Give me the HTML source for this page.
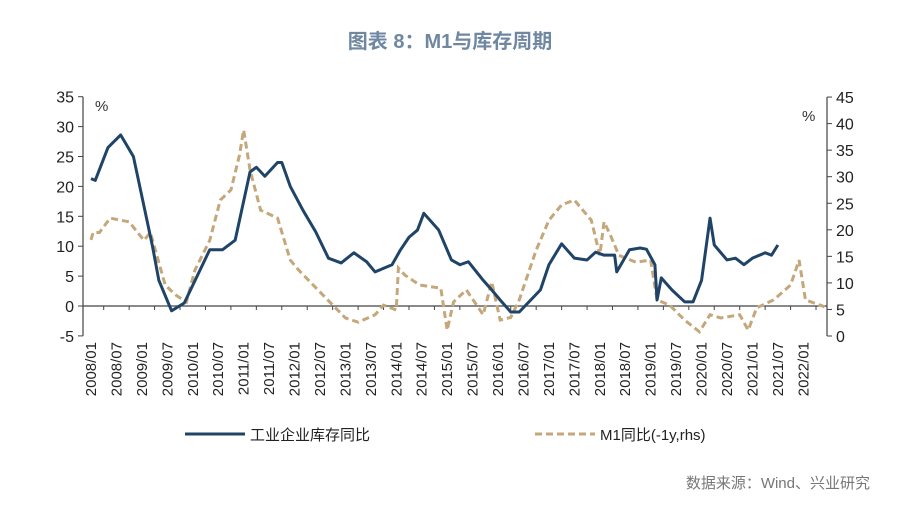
<!DOCTYPE html>
<html><head><meta charset="utf-8">
<style>
body{margin:0;background:#fff;}
svg{display:block;font-family:"Liberation Sans","Noto Sans CJK SC",sans-serif;}
</style></head>
<body>
<svg id="chart" width="900" height="519" viewBox="0 0 900 519">
<text x="450" y="48" text-anchor="middle" font-size="20" font-weight="bold" fill="#6f87a0">图表 8：M1与库存周期</text>
<g id="axes"></g>
<g id="series"></g>
<g>
<line x1="185" y1="434" x2="245" y2="434" stroke="#1f4468" stroke-width="3"/>
<text x="250" y="440" font-size="15" fill="#222">工业企业库存同比</text>
<line x1="535" y1="434" x2="595" y2="434" stroke="#c4a77a" stroke-width="3" stroke-dasharray="7,4"/>
<text x="600" y="440" font-size="15" fill="#222">M1同比(-1y,rhs)</text>
</g>
<text x="870" y="488" text-anchor="end" font-size="15" fill="#777">数据来源：Wind、兴业研究</text>
</svg>
<script>
const xLabels=["2008/01","2008/07","2009/01","2009/07","2010/01","2010/07","2011/01","2011/07","2012/01","2012/07","2013/01","2013/07","2014/01","2014/07","2015/01","2015/07","2016/01","2016/07","2017/01","2017/07","2018/01","2018/07","2019/01","2019/07","2020/01","2020/07","2021/01","2021/07","2022/01"];
const leftTicks=[-5,0,5,10,15,20,25,30,35];
const rightTicks=[0,5,10,15,20,25,30,35,40,45];
const invMonths=[0,1,4,7,10,14.5,16,19,22,28,31,34,37.5,39,41,44,45,47,50,53,56,59,62,65,67,71,73,75,77,78.5,82,85,87,89,92.5,94.5,96.5,99,101,106,108,111,114,117,119,121,122.5,123.5,124,127,129.5,131,133,133.5,134.5,137,140,142,144,146,147,150,152,154,156,159,160.5,162];
const invValues=[21.3,21,26.5,28.6,25,10,4.3,-0.8,0.5,9.4,9.4,11,22.4,23.2,21.7,24,24,20,16,12.4,8,7.2,8.9,7.4,5.7,6.9,9.4,11.5,12.7,15.5,12.7,7.7,6.9,7.4,4.3,2.7,1,-1,-1,2.7,6.9,10.4,8,7.7,9,8.5,8.5,8.5,5.7,9.4,9.7,9.5,6.9,1,4.7,2.7,0.7,0.7,4.3,14.7,10.2,7.7,8,6.9,8,8.9,8.5,10.2];
const m1Months=[0,0.5,2,4.5,9,12.5,14,17.5,20,22.5,24.5,28,30.5,33,35,36,37.5,40,44,47,49,53.5,60,63,67,69,72,72.5,74,77.5,82.5,84,85.5,88.5,92.5,94.5,96.5,99,101,105,108,111,114,118,120,121,122.5,124.5,128.5,132,133.5,136.5,140,143.5,146,148.5,153,155,157,161,165,167,168.5,172,173];
const m1Values=[18.1,19.5,19.5,22.2,21.5,18,19.5,9.6,7.7,6.4,12.4,18,25.6,27.5,34,38.8,31.3,23.7,22.2,14.3,12.4,8.7,3.4,2.6,4,5.8,4.9,12.8,11.5,9.6,9,1.1,6.4,8.7,4,10.2,3,3.5,6.8,16.2,21.8,24.7,25.6,21.8,15.2,21.5,19,15.2,13.9,14.3,6.8,5.8,3,0.8,4,3.4,4,1.1,5.3,6.8,9.6,14.3,6.8,5.8,5.5];
const X=m=>91+m*4.24;
const YL=v=>306-v*5.98;
const YR=v=>336-v*5.31;
const NS="http://www.w3.org/2000/svg";
const ax=document.getElementById('axes'),se=document.getElementById('series');
function mk(tag,at,parent){const e=document.createElementNS(NS,tag);for(const k in at)e.setAttribute(k,at[k]);parent.appendChild(e);return e;}
let e;
e=mk('line',{x1:83,y1:YL(35),x2:83,y2:YL(-5),stroke:'#444','stroke-width':1.2},ax);


e=mk('line',{x1:827,y1:YR(45),x2:827,y2:YR(0),stroke:'#444','stroke-width':1.2},ax);


e=mk('line',{x1:83,y1:YL(0),x2:827,y2:YL(0),stroke:'#444','stroke-width':1.2},ax);


leftTicks.forEach(v=>{mk('line',{x1:78,y1:YL(v),x2:83,y2:YL(v),stroke:'#444'},ax);
 e=mk('text',{x:74,y:YL(v)+6,'text-anchor':'end','font-size':16,fill:'#222'},ax);e.textContent=v;
 
 });
rightTicks.forEach(v=>{mk('line',{x1:827,y1:YR(v),x2:832,y2:YR(v),stroke:'#444'},ax);
 e=mk('text',{x:836,y:YR(v)+6,'font-size':16,fill:'#222'},ax);e.textContent=v;
 
 });
e=mk('text',{x:95,y:111,'font-size':15,fill:'#333'},ax);e.textContent='%';


e=mk('text',{x:802,y:121,'font-size':15,fill:'#333'},ax);e.textContent='%';


xLabels.forEach((l,i)=>{const x=X(i*6);
 mk('line',{x1:x+12.7,y1:YL(0),x2:x+12.7,y2:YL(0)+4,stroke:'#444'},ax);
 e=mk('text',{x:0,y:0,'text-anchor':'end','font-size':15,fill:'#222',transform:`translate(${x+5},342) rotate(-90)`},ax);e.textContent=l;
 
 });
e=mk('polyline',{points:m1Months.map((m,i)=>X(m)+','+YR(m1Values[i])).join(' '),fill:'none',stroke:'#c4a77a','stroke-width':3,'stroke-dasharray':'7,4'},se);


e=mk('polyline',{points:invMonths.map((m,i)=>X(m)+','+YL(invValues[i])).join(' '),fill:'none',stroke:'#1f4468','stroke-width':3,'stroke-linejoin':'round'},se);


</script>
</body></html>
